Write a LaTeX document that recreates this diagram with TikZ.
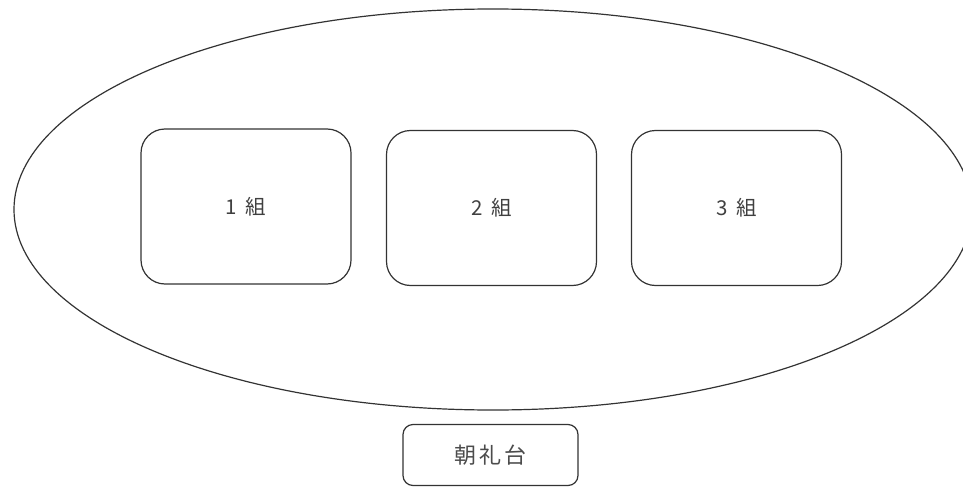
\documentclass[tikz,border=0pt]{standalone}
\usepackage{fontspec}
\usetikzlibrary{shapes.geometric}
\newfontfamily\jpfont{Noto Sans CJK JP}[Scale=1.0]
\newfontfamily\jpspaced{Noto Sans CJK JP}[LetterSpace=15]
\begin{document}
\begin{tikzpicture}[x=1pt,y=-1pt]
\tikzset{
  ln/.style={draw=black!80, line width=1.2pt},
  classbox/.style={ln, rounded corners=24pt, minimum width=210pt, minimum height=155pt, inner sep=0pt,
    font=\jpfont\fontsize{20.5}{24}\selectfont, text=black!75},
  stagebox/.style={ln, rounded corners=10pt, minimum width=175pt, minimum height=61pt, inner sep=0pt,
    font=\jpspaced\fontsize{22}{26}\selectfont, text=black!70}
}
\useasboundingbox (0,0) rectangle (963,487);
\clip (0,0) rectangle (963,487);
\node[ln, ellipse, minimum width=958pt, minimum height=401pt, inner sep=0pt] (ground) at (493,209.5) {};
\node[classbox] (c1) at (246,206.5) {1\hspace{9pt}組};
\node[classbox] (c2) at (491.5,208) {2\hspace{9pt}組};
\node[classbox] (c3) at (736.5,208) {3\hspace{9pt}組};
\node[stagebox] (stage) at (490.5,455) {朝礼台};
\end{tikzpicture}
\end{document}
